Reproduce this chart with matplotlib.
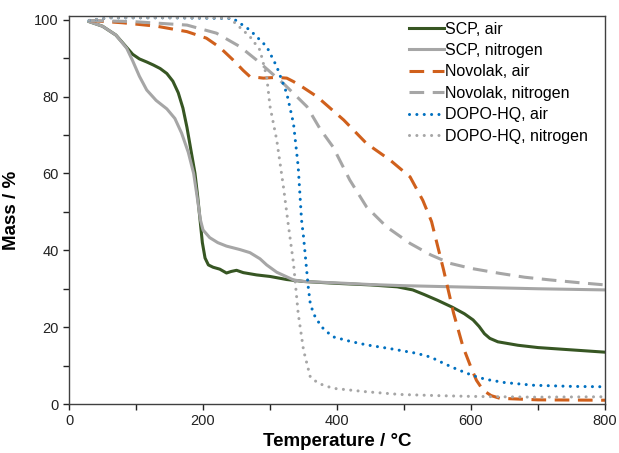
import matplotlib
matplotlib.use("Agg")
import matplotlib.pyplot as plt
from matplotlib.ticker import MultipleLocator

plt.rcParams['font.family'] = ['Liberation Sans', 'DejaVu Sans']

# SCP en aire
t_scp_aire = [30, 50, 70, 85, 95, 105, 116, 126, 136, 146, 155, 163, 170, 176, 182, 188, 192, 195.5, 199, 203, 208, 215, 225, 235, 242, 250, 260, 280, 300, 325, 350, 400, 450, 490, 513, 530, 550, 572, 590, 603, 612, 620, 628, 640, 670, 700, 750, 800]
m_scp_aire = [99.5, 98.3, 96, 93, 91, 89.8, 89, 88.2, 87.3, 86, 84, 81, 77, 72, 66, 60, 54, 48, 42, 38, 36.2, 35.6, 35.1, 34.1, 34.5, 34.8, 34.2, 33.6, 33.2, 32.4, 31.9, 31.4, 31, 30.5, 29.7, 28.5, 27, 25.2, 23.5, 21.9, 20.2, 18.3, 17.1, 16.2, 15.3, 14.7, 14.1, 13.5]

# SCP en nitrogeno
t_scp_n2 = [30, 50, 70, 86, 95, 105, 116, 130, 146, 158, 168, 178, 186, 192, 196, 200, 210, 222, 235, 255, 270, 285, 295, 310, 335, 350, 403, 450, 500, 600, 700, 800]
m_scp_n2 = [99.5, 98.3, 96, 92.6, 89.3, 85.3, 81.7, 79, 76.8, 74.3, 70.5, 65.5, 60, 53, 48, 45.3, 43.3, 42, 41.1, 40.2, 39.4, 37.8, 36.2, 34.3, 32.3, 31.9, 31.5, 31.1, 30.8, 30.4, 30, 29.7]

# Novolak en aire
t_nov_aire = [30, 80, 131, 176, 205, 225, 245, 260, 270, 290, 310, 325, 335, 350, 370, 410, 444, 479, 509, 528, 541, 559, 574, 588, 600, 608, 618, 630, 643, 700, 800]
m_nov_aire = [99.8, 99.2, 98.3, 96.9, 95.2, 92.8, 89.5, 86.8, 85.2, 84.8, 85, 84.8, 83.9, 82.3, 80, 73.9, 67.8, 63.5, 59.1, 53, 47.5, 34.9, 23.6, 14.9, 9.5, 6.2, 3.6, 2.2, 1.5, 1.1, 1.0]

# Novolak en nitrogeno
t_nov_n2 = [30, 96, 176, 220, 255, 280, 320, 355, 375, 394, 419, 444, 474, 509, 540, 569, 600, 643, 680, 718, 760, 800]
m_nov_n2 = [99.8, 99.5, 98.6, 96.5, 93, 89.5, 83.4, 77.4, 71.5, 66.9, 58.3, 51.3, 46.1, 41.8, 38.8, 36.6, 35.3, 34, 33, 32.3, 31.6, 31]

# DOPO-HQ en aire
t_dopo_aire = [30, 60, 150, 245, 270, 295, 310, 325, 335, 342, 347, 350, 357, 360, 365, 370, 380, 394, 420, 444, 480, 519, 540, 559, 577, 594, 610, 623, 650, 693, 750, 800]
m_dopo_aire = [99.8, 100.5, 100.5, 100.3, 97.3, 93, 87.8, 80.8, 73, 61.8, 47.9, 43.5, 30.5, 26.2, 23.5, 21.9, 19.5, 17.5, 16.3, 15.4, 14.4, 13.2, 12.2, 10.6, 9.2, 8, 7, 6.4, 5.6, 4.9, 4.6, 4.5]

# DOPO-HQ en nitrogeno
t_dopo_n2 = [30, 60, 150, 240, 270, 285, 295, 300, 310, 320, 327, 335, 342, 350, 360, 372, 394, 444, 494, 550, 600, 693, 800]
m_dopo_n2 = [99.8, 100.5, 100.5, 100.4, 95.6, 92.1, 85.2, 77.4, 68.7, 56.5, 47, 36.6, 23.6, 14, 7.1, 5.4, 4.1, 3.2, 2.5, 2.2, 2, 1.8, 1.9]

fig = plt.figure(figsize=(6.19, 4.53), dpi=100)
ax = fig.add_axes([0.1115, 0.108, 0.866, 0.857])

estilo = dict(lw=2.2, solid_joinstyle='round', dash_joinstyle='round')
punto = dict(dashes=(0.01, 2.4), dash_capstyle='round')
raya = dict(dashes=(4.8, 2.8), dash_capstyle='butt')

ax.plot(t_scp_aire, m_scp_aire, color='#375623', label='SCP, air', **estilo)
ax.plot(t_scp_n2, m_scp_n2, color='#A6A6A6', label='SCP, nitrogen', **estilo)
ax.plot(t_nov_aire, m_nov_aire, color='#D0601C', label='Novolak, air', **estilo, **raya)
ax.plot(t_nov_n2, m_nov_n2, color='#A6A6A6', label='Novolak, nitrogen', **estilo, **raya)
ax.plot(t_dopo_aire, m_dopo_aire, color='#0070C0', label='DOPO-HQ, air', **estilo, **punto)
ax.plot(t_dopo_n2, m_dopo_n2, color='#A6A6A6', label='DOPO-HQ, nitrogen', **estilo, **punto)

ax.set_xlim(0, 800)
ax.set_ylim(0, 101)
ax.xaxis.set_major_locator(MultipleLocator(200))
ax.xaxis.set_minor_locator(MultipleLocator(100))
ax.yaxis.set_major_locator(MultipleLocator(20))
ax.yaxis.set_minor_locator(MultipleLocator(10))
ax.tick_params(which='both', direction='out', length=4, width=1, labelsize=10.5, colors='#222222')
for s in ax.spines.values():
    s.set_color('#404040')
    s.set_linewidth(1)

ax.set_xlabel('Temperature / °C', fontsize=13.5, fontweight='bold', labelpad=3)
ax.set_ylabel('Mass / %', fontsize=13.5, fontweight='bold', labelpad=10)

ax.legend(loc='upper right', frameon=False, fontsize=11.5, handlelength=2.2, handletextpad=0.05,
          labelspacing=0.4, borderaxespad=0.2, bbox_to_anchor=(0.985, 1.01))

fig.savefig('out.png', dpi=100)
